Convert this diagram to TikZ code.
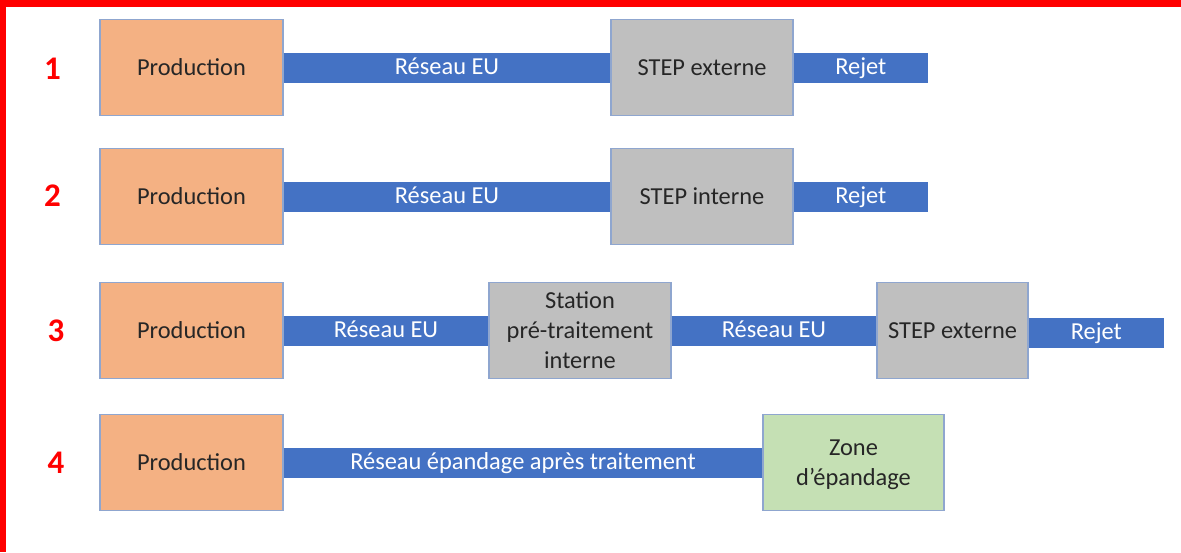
\documentclass[tikz,border=0pt]{standalone}
\usepackage{fontspec}
\setmainfont{Carlito}

\definecolor{prodfill}{HTML}{F4B183}
\definecolor{stepfill}{HTML}{BFBFBF}
\definecolor{zonefill}{HTML}{C5E0B4}
\definecolor{barblue}{HTML}{4472C4}
\definecolor{boxline}{HTML}{8FA6CF}
\definecolor{numred}{HTML}{FF0000}

\tikzset{
	box/.style={draw=boxline, line width=0.6pt, minimum height=48pt, inner sep=0pt,
		text=black!85, align=center, text depth=0pt, font=\fontsize{12.2}{15}\selectfont},
	prod/.style={box, fill=prodfill, minimum width=91.5pt},
	stepbox/.style={box, fill=stepfill, minimum width=91pt},
	zone/.style={box, fill=zonefill, minimum width=90.5pt},
	bar/.style={barblue, line width=15pt},
	bartext/.style={text=white, font=\fontsize{12.2}{15}\selectfont,
		anchor=base, yshift=-3.4pt},
	num/.style={text=numred, font=\fontsize{16.5}{20}\selectfont\bfseries},
}

\begin{document}
\begin{tikzpicture}[x=0.5pt, y=-0.5pt]

	\useasboundingbox (0,0) rectangle (1181,552);

	% === FRAME === (((
	\fill[numred] (0,0) rectangle (1181,7);
	\fill[numred] (0,0) rectangle (6,552);
	% )))

	% === NUMBERS AND PRODUCTION === (((
	\foreach \n/\x/\y in {1/52.5/69,2/52.5/196,3/56/331,4/56/463}
		\node[num] (n\n) at (\x,\y) {\n};
	\foreach \n/\y in {1/67.5,2/196.5,3/330.5,4/462.5}
		\node[prod] (p\n) at (191.5,\y) {Production};
	% )))

	% === ROW 1 === (((
	\node[stepbox] (s1) at (702,67.5) {STEP externe};
	\coordinate (r1) at (928,67.5);
	\draw[bar] (p1.east) -- (s1.west) node[bartext, midway] (l1) {Réseau EU};
	\draw[bar] (s1.east) -- (r1) node[bartext, midway] (j1) {Rejet};
	% )))

	% === ROW 2 === (((
	\node[stepbox] (s2) at (702,196.5) {STEP interne};
	\coordinate (r2) at (928,196.5);
	\draw[bar] (p2.east) -- (s2.west) node[bartext, midway] (l2) {Réseau EU};
	\draw[bar] (s2.east) -- (r2) node[bartext, midway] (j2) {Rejet};
	% )))

	% === ROW 3 === (((
	\node[stepbox] (t3) at (580,330.5) {Station\\pré-traitement\\interne};
	\node[stepbox, minimum width=75.5pt] (s3) at (952.5,330.5) {STEP externe};
	\coordinate (r3) at (1164,333);
	\draw[bar] (p3.east) -- (t3.west) node[bartext, midway] (l3) {Réseau EU};
	\draw[bar] (t3.east) -- (s3.west) node[bartext, midway] (m3) {Réseau EU};
	\draw[bar] (s3.east |- r3) -- (r3) node[bartext, midway] (j3) {Rejet};
	% )))

	% === ROW 4 === (((
	\node[zone] (z4) at (853.5,462.5) {Zone\\d’épandage};
	\draw[bar] (p4.east) -- (z4.west) node[bartext, midway] (l4) {Réseau épandage après traitement};
	% )))

\end{tikzpicture}
\end{document}
